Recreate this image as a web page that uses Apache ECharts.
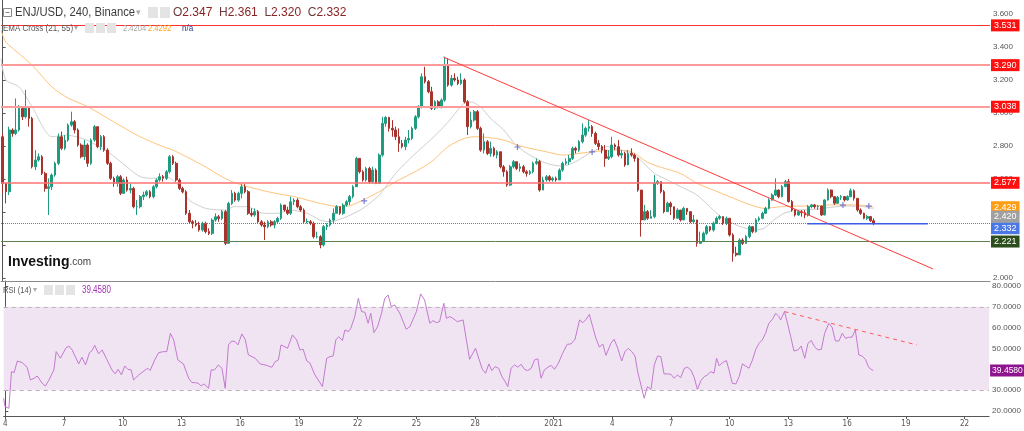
<!DOCTYPE html>
<html><head><meta charset="utf-8">
<script src="https://cdn.jsdelivr.net/npm/echarts/dist/echarts.min.js"></script>
<style>html,body{margin:0;padding:0;background:#fff}#c{width:1024px;height:431px}</style>
</head><body><div id="c"></div>
<script>
// ---------- DATA ----------
const firstOpen = 2.856;
const closes = [
2.573,2.523,2.897,2.876,2.897,3.028,2.977,3.038,2.967,2.674,
2.715,2.735,2.634,2.543,2.553,2.624,2.695,2.856,2.786,2.836,
2.927,2.947,2.897,2.806,2.735,2.806,2.695,2.836,2.917,2.796,
2.856,2.775,2.695,2.604,2.573,2.614,2.513,2.594,2.533,2.543,
2.432,2.432,2.493,2.503,2.523,2.493,2.553,2.594,2.614,2.604,
2.644,2.735,2.695,2.594,2.543,2.523,2.392,2.341,2.331,2.321,
2.291,2.331,2.281,2.270,2.351,2.371,2.361,2.402,2.210,2.452,
2.513,2.472,2.513,2.553,2.523,2.392,2.382,2.402,2.341,2.321,
2.311,2.341,2.321,2.341,2.361,2.442,2.412,2.392,2.462,2.472,
2.432,2.412,2.341,2.341,2.331,2.250,2.250,2.200,2.311,2.321,
2.351,2.392,2.432,2.392,2.442,2.462,2.493,2.553,2.725,2.644,
2.594,2.664,2.584,2.654,2.573,2.745,2.937,2.973,2.907,2.897,
2.856,2.816,2.796,2.836,2.846,2.907,2.977,3.038,3.220,3.190,
3.129,3.028,3.068,3.038,3.078,3.290,3.169,3.210,3.200,3.179,
3.200,3.068,2.917,2.957,3.008,2.907,2.775,2.826,2.755,2.786,
2.745,2.765,2.674,2.644,2.563,2.674,2.705,2.664,2.674,2.644,
2.634,2.644,2.695,2.705,2.533,2.594,2.614,2.594,2.604,2.594,
2.654,2.695,2.705,2.725,2.786,2.775,2.826,2.866,2.907,2.917,
2.876,2.816,2.796,2.775,2.725,2.735,2.806,2.796,2.745,2.755,
2.685,2.755,2.745,2.725,2.533,2.352,2.402,2.362,2.372,2.574,
2.584,2.523,2.402,2.453,2.432,2.362,2.412,2.352,2.422,2.402,
2.342,2.352,2.210,2.220,2.271,2.311,2.291,2.332,2.362,2.372,
2.332,2.362,2.261,2.150,2.140,2.230,2.210,2.251,2.311,2.281,
2.352,2.362,2.392,2.422,2.473,2.503,2.533,2.493,2.554,2.584,
2.463,2.412,2.382,2.402,2.396,2.382,2.432,2.443,2.432,2.436,
2.382,2.473,2.533,2.493,2.453,2.489,2.493,2.473,2.493,2.529,
2.483,2.412,2.392,2.362,2.372,2.347,2.332];
const highs = [
2.876,2.573,2.917,2.907,3.088,3.048,3.038,3.139,3.038,2.977,
2.775,2.755,2.745,2.644,2.604,2.634,2.705,2.876,2.887,2.866,
2.937,3.008,2.957,2.907,2.816,2.836,2.816,2.846,2.927,2.917,
2.866,2.866,2.786,2.705,2.614,2.624,2.624,2.604,2.614,2.573,
2.553,2.472,2.503,2.523,2.533,2.533,2.563,2.604,2.634,2.624,
2.654,2.745,2.745,2.705,2.604,2.553,2.533,2.412,2.351,2.351,
2.341,2.341,2.341,2.301,2.361,2.392,2.382,2.412,2.412,2.462,
2.533,2.523,2.523,2.569,2.569,2.533,2.422,2.422,2.412,2.351,
2.341,2.351,2.351,2.351,2.371,2.452,2.432,2.432,2.493,2.483,
2.483,2.442,2.422,2.361,2.351,2.341,2.281,2.260,2.321,2.331,
2.361,2.422,2.442,2.432,2.452,2.472,2.503,2.563,2.735,2.705,
2.654,2.674,2.674,2.674,2.664,2.755,2.977,2.981,2.977,2.957,
2.917,2.907,2.836,2.856,2.897,2.917,2.987,3.048,3.240,3.280,
3.200,3.159,3.078,3.078,3.088,3.341,3.331,3.230,3.240,3.220,
3.240,3.210,3.078,3.008,3.018,3.018,2.917,2.876,2.836,2.826,
2.796,2.775,2.765,2.685,2.654,2.685,2.715,2.705,2.695,2.685,
2.654,2.654,2.705,2.725,2.715,2.614,2.624,2.624,2.614,2.614,
2.664,2.705,2.725,2.745,2.796,2.796,2.836,2.937,2.917,2.957,
2.927,2.887,2.836,2.806,2.806,2.775,2.856,2.816,2.836,2.775,
2.765,2.775,2.786,2.755,2.730,2.533,2.443,2.412,2.412,2.624,
2.594,2.584,2.533,2.463,2.463,2.432,2.422,2.412,2.432,2.422,
2.402,2.382,2.352,2.281,2.281,2.321,2.315,2.342,2.372,2.382,
2.372,2.372,2.362,2.271,2.190,2.241,2.241,2.261,2.321,2.311,
2.362,2.372,2.402,2.432,2.483,2.513,2.604,2.537,2.564,2.594,
2.600,2.473,2.416,2.412,2.412,2.412,2.443,2.449,2.449,2.443,
2.436,2.477,2.543,2.537,2.497,2.497,2.503,2.497,2.501,2.543,
2.537,2.483,2.422,2.396,2.382,2.376,2.361];
const lows = [
2.513,2.452,2.503,2.856,2.866,2.887,2.957,2.967,2.917,2.664,
2.654,2.705,2.624,2.523,2.382,2.533,2.614,2.685,2.775,2.775,
2.826,2.917,2.876,2.796,2.725,2.715,2.674,2.685,2.826,2.786,
2.775,2.765,2.685,2.594,2.553,2.553,2.503,2.513,2.523,2.513,
2.422,2.382,2.422,2.472,2.493,2.483,2.483,2.543,2.584,2.584,
2.594,2.634,2.685,2.584,2.533,2.513,2.382,2.331,2.301,2.311,
2.281,2.281,2.270,2.260,2.260,2.341,2.341,2.351,2.200,2.206,
2.442,2.462,2.462,2.483,2.513,2.382,2.371,2.371,2.331,2.311,
2.230,2.301,2.311,2.301,2.331,2.351,2.402,2.382,2.382,2.442,
2.422,2.402,2.331,2.331,2.321,2.240,2.240,2.180,2.190,2.291,
2.311,2.331,2.392,2.382,2.382,2.432,2.442,2.483,2.553,2.634,
2.584,2.584,2.573,2.573,2.569,2.569,2.735,2.917,2.887,2.856,
2.836,2.765,2.786,2.775,2.816,2.836,2.897,2.967,3.028,3.179,
3.119,3.018,3.018,3.028,3.028,3.068,3.159,3.159,3.190,3.169,
3.169,3.058,2.866,2.907,2.947,2.897,2.765,2.755,2.745,2.735,
2.735,2.725,2.664,2.614,2.553,2.557,2.664,2.654,2.644,2.634,
2.614,2.624,2.634,2.685,2.523,2.533,2.584,2.584,2.584,2.584,
2.594,2.644,2.685,2.685,2.715,2.755,2.765,2.816,2.856,2.887,
2.856,2.806,2.775,2.755,2.674,2.715,2.725,2.775,2.735,2.725,
2.674,2.685,2.735,2.705,2.523,2.251,2.352,2.352,2.362,2.362,
2.564,2.513,2.392,2.402,2.382,2.352,2.362,2.342,2.352,2.382,
2.332,2.332,2.190,2.210,2.251,2.261,2.281,2.281,2.327,2.352,
2.321,2.321,2.251,2.099,2.130,2.140,2.200,2.206,2.241,2.271,
2.275,2.342,2.356,2.388,2.416,2.469,2.497,2.483,2.489,2.550,
2.457,2.402,2.372,2.376,2.372,2.362,2.372,2.422,2.420,2.412,
2.376,2.380,2.469,2.483,2.443,2.449,2.473,2.463,2.469,2.489,
2.469,2.402,2.382,2.356,2.352,2.340,2.320];

// EMA 55 (orange) and EMA 21 (grey): [candle position, value]
const ema55 = [[-0.5,3.50],[1,3.43],[5,3.36],[9,3.29],[15,3.159],[20,3.09],[26,3.038],[33,2.957],[42,2.856],[49,2.796],[52,2.775],[60,2.695],[70,2.584],[81,2.523],[89,2.493],[97,2.452],[103,2.432],[106,2.438],[110,2.472],[115,2.523],[120,2.584],[125,2.634],[131,2.705],[136,2.796],[141,2.846],[144,2.856],[148,2.852],[153,2.836],[157,2.806],[161,2.786],[166,2.765],[171,2.745],[176,2.755],[180,2.765],[187,2.775],[192,2.766],[197,2.700],[202,2.665],[207,2.634],[212,2.574],[217,2.533],[222,2.493],[227,2.453],[232.5,2.422],[237.6,2.432],[242.7,2.436],[247.7,2.436],[252.8,2.443],[257.9,2.443],[263,2.440],[266,2.429]];
const ema21 = [[-0.5,3.33],[1,3.20],[5,3.159],[9,3.038],[15,2.856],[19.5,2.866],[25.6,2.836],[32.8,2.755],[37.9,2.674],[42,2.614],[46,2.604],[50,2.614],[54,2.553],[57,2.472],[62,2.422],[68.5,2.412],[70.5,2.432],[74.6,2.432],[79.7,2.392],[83.8,2.392],[87.9,2.412],[93,2.392],[97,2.351],[100,2.341],[105,2.371],[110,2.422],[115,2.503],[120,2.634],[125.5,2.745],[130.6,2.836],[135.7,2.937],[140.8,3.058],[142.8,3.068],[145.9,3.038],[149,2.967],[153,2.897],[157,2.800],[161,2.745],[166,2.695],[171,2.678],[175,2.705],[180,2.765],[184.6,2.796],[188.7,2.775],[191.7,2.759],[194.8,2.715],[199,2.634],[202,2.604],[207,2.554],[212,2.503],[217,2.412],[220,2.362],[225.4,2.311],[229.4,2.291],[232.5,2.301],[235.5,2.352],[238.6,2.392],[242.7,2.412],[247.7,2.416],[252.8,2.428],[257.9,2.436],[263,2.432],[266,2.420]];
const emaCross = [[110.4,2.467],[157.2,2.794],[180,2.764],[256.6,2.442],[264.5,2.436]];

// RSI(14): [candle position, value]
const rsi = [[-0.5,26.1],[-0.1,22.1],[1.1,21.3],[1.9,38.9],[2.7,38.4],[3.7,44.0],[5.2,43.2],[6.7,41.0],[7.7,34.9],[8.8,35.7],[9.8,36.8],[11.3,33.3],[12.3,32.0],[13.4,34.9],[14.9,39.7],[15.6,48.5],[16.9,45.3],[18.5,50.1],[19.5,51.2],[20.5,49.3],[22.5,42.6],[23.5,45.8],[24.6,42.1],[25.8,48.0],[26.6,49.0],[27.4,51.5],[28.6,47.4],[29.7,49.3],[31.2,44.5],[32.7,39.7],[33.7,37.8],[34.6,40.0],[35.6,37.3],[36.6,41.6],[37.6,40.0],[38.6,39.7],[39.3,34.9],[40.9,37.3],[42.9,39.7],[43.7,40.5],[44.4,39.4],[45.8,44.5],[47.0,48.0],[48.5,48.5],[49.5,48.5],[50.6,57.3],[51.6,54.1],[52.9,44.5],[54.6,42.6],[56.2,35.7],[57.2,33.6],[58.2,33.6],[59.2,33.3],[60.0,32.0],[60.9,33.0],[62.3,30.9],[63.1,39.7],[64.1,39.7],[65.3,42.1],[66.4,40.5],[67.4,30.9],[68.4,51.7],[69.4,53.6],[70.4,53.3],[71.3,51.7],[72.5,57.0],[73.5,54.4],[74.5,46.9],[76.6,45.3],[78.1,42.6],[79.6,42.1],[80.6,41.6],[81.7,41.0],[82.7,43.7],[83.7,44.5],[84.5,51.7],[85.2,51.2],[86.5,50.1],[88.0,56.5],[89.3,54.1],[90.3,49.3],[91.3,49.6],[92.4,44.0],[93.4,42.9],[94.9,37.3],[95.9,34.9],[97.2,31.7],[98.5,45.3],[99.5,46.1],[100.5,46.4],[101.3,54.1],[102.2,55.7],[103.3,53.8],[104.1,58.9],[105.1,58.1],[105.9,59.7],[107.1,65.3],[108.2,74.1],[109.2,67.7],[110.2,67.4],[111.2,62.1],[112.0,66.9],[113.0,57.6],[114.1,60.5],[115.3,66.9],[116.3,74.1],[117.3,75.7],[118.3,70.1],[119.4,70.9],[120.9,66.9],[122.9,59.2],[124.0,60.5],[126.0,67.7],[127.3,76.2],[128.5,73.3],[130.1,62.1],[131.1,63.4],[132.1,62.4],[133.1,62.9],[134.4,71.7],[135.2,64.5],[136.2,65.3],[137.2,64.5],[138.5,62.9],[140.3,63.7],[142.3,44.8],[144.1,50.1],[146.2,40.0],[147.2,38.1],[148.2,42.6],[149.1,39.4],[150.1,41.3],[151.2,40.5],[152.2,36.5],[153.2,34.1],[154.0,31.7],[155.0,40.5],[156.1,42.1],[157.1,41.0],[158.1,42.4],[159.1,40.0],[160.1,39.4],[161.2,40.5],[162.2,44.5],[163.2,45.0],[164.2,35.7],[165.2,39.7],[166.3,41.0],[167.3,41.9],[168.3,40.0],[169.5,42.9],[170.8,47.7],[172.2,52.0],[173.4,52.2],[174.6,54.4],[176.0,63.7],[177.0,62.4],[178.0,64.0],[179.0,66.4],[180.0,60.5],[181.0,54.9],[182.1,50.6],[183.1,52.2],[184.1,46.7],[185.6,52.5],[186.6,54.4],[187.7,50.1],[188.9,44.0],[189.9,48.5],[190.9,50.1],[192.0,48.5],[193.0,46.4],[193.8,38.9],[194.8,32.5],[195.8,26.1],[196.8,31.7],[197.9,30.4],[198.9,42.1],[199.9,46.4],[200.9,46.1],[201.9,37.8],[203.0,37.8],[204.0,37.6],[205.0,35.7],[206.0,37.3],[207.0,36.0],[208.1,40.5],[209.1,41.0],[210.1,39.7],[211.1,36.2],[212.1,30.4],[213.2,34.6],[214.2,36.5],[215.2,37.3],[216.2,38.9],[217.2,38.1],[218.0,45.3],[218.8,41.6],[219.8,43.2],[221.0,44.2],[221.8,39.7],[222.8,33.3],[223.9,33.0],[224.9,36.5],[225.9,42.6],[226.9,41.6],[227.9,40.5],[229.0,44.5],[230.0,49.6],[231.0,52.5],[232.0,54.1],[233.0,57.3],[234.0,62.1],[235.1,64.0],[236.1,66.9],[237.1,65.3],[237.6,63.7],[238.8,67.7],[239.6,62.9],[240.7,55.7],[241.7,48.8],[242.9,49.3],[243.9,51.2],[245.0,45.3],[246.0,52.5],[247.0,53.8],[248.0,50.9],[249.0,49.3],[250.1,49.6],[251.1,57.3],[252.4,62.1],[253.4,60.2],[254.4,53.6],[255.5,53.6],[256.5,57.3],[257.5,54.9],[258.5,55.4],[259.5,55.4],[260.5,58.9],[261.6,46.9],[262.6,46.4],[263.6,44.8],[264.6,41.0],[265.6,39.7],[266,39.458]];

// drawn objects
const resistLevels = [3.531, 3.290, 3.038, 2.577];
const lastPrice = 2.332;
const supportLevel = 2.221;
const ema55Last = 2.429, ema21Last = 2.420, rsiLast = 39.458;
const trendMain = [[134.6,3.339],[284.1,2.055]];
const blueSeg = [[245.7,2.329],[282.5,2.329]];
const rsiTrend = [[238.8,67.7],[279.4,51.7]];

// x axis: 4h candles from 4 Dec 2020
const slotCount = 302;
const startMs = Date.UTC(2020, 11, 4, 0);
const tickDates = ['2020-12-04','2020-12-07','2020-12-10','2020-12-13','2020-12-16','2020-12-19','2020-12-22','2020-12-25','2020-12-28','2021-01-01','2021-01-04','2021-01-07','2021-01-10','2021-01-13','2021-01-16','2021-01-19','2021-01-22'];
const tickLabels = ['4','7','10','13','16','19','22','25','28','2021','4','7','10','13','16','19','22'];

// ---------- BUILD ----------
const categories = [];
for (let i = 0; i < slotCount; i++) categories.push(new Date(startMs + i*4*3600e3).toISOString().slice(0,13));
const tickMap = {};
tickDates.forEach((d,k) => tickMap[d + 'T00'] = tickLabels[k]);
const candles = closes.map((c,i) => {
  const o = i === 0 ? firstOpen : closes[i-1];
  return [o, c, Math.min(lows[i], o, c), Math.max(highs[i], o, c)];
});

const UP = '#1f9c80', DOWN = '#a8332d';
const FONT = 'Liberation Sans, Arial, sans-serif';
const NARROW = 'Liberation Sans Narrow, DejaVu Sans Condensed, Arial, sans-serif';
function tag(bg, val, dec, offY, fs) {
  return { show: true, position: 'end', distance: 1, backgroundColor: bg, color: '#fff',
    fontSize: fs || 9, fontFamily: FONT, padding: [2,3,1,3], offset: [0, offY || 0],
    formatter: () => val.toFixed(dec) };
}
const hidden = { color: 'rgba(0,0,0,0)', width: 0 };
function txt(x, y, text, fill, size, sx) {
  return { type: 'text', x: x, y: y, z: 100, scaleX: sx || 1,
    style: { text: text, fill: fill, font: size + 'px ' + FONT, verticalAlign: 'middle' } };
}
function box(x, y, w, h) {
  return { type: 'rect', z: 100, shape: { x: x, y: y, width: w, height: h }, style: { fill: '#e4e4e4' } };
}

const levelStyles = [
  { color: '#ff3030', width: 1 },
  { color: '#ff9a9a', width: 2 },
  { color: '#ff9a9a', width: 2 },
  { color: '#ff7272', width: 1.5 }
];
const levelMarks = resistLevels.map((v,k) => ({ yAxis: v, lineStyle: { color: levelStyles[k].color, width: levelStyles[k].width, type: 'solid' }, label: tag('#ff1010', v, 3) }));
levelMarks.push({ yAxis: lastPrice, lineStyle: { color: '#5577e6', width: 1, type: 'dotted' }, label: tag('#4a78e6', lastPrice, 3, 5) });
levelMarks.push({ yAxis: supportLevel, lineStyle: { color: '#5f7f4c', width: 1, type: 'solid' }, label: tag('#2c4d1c', supportLevel, 3) });

const chart = echarts.init(document.getElementById('c'), null, { renderer: 'canvas' });
const axisGrey = '#555';
chart.setOption({
  animation: false,
  backgroundColor: '#fff',
  grid: [
    { left: 1, top: 0, width: 989, height: 281 },
    { left: 1, top: 281, width: 989, height: 135 }
  ],
  xAxis: [
    { type: 'category', gridIndex: 0, data: categories, boundaryGap: true,
      axisLine: { show: true, lineStyle: { color: '#8a8a8a' } }, axisTick: { show: false }, axisLabel: { show: false }, splitLine: { show: false } },
    { type: 'value', gridIndex: 0, min: -0.5, max: slotCount - 0.5, show: false },
    { type: 'category', gridIndex: 1, data: categories, boundaryGap: true,
      axisLine: { show: true, lineStyle: { color: axisGrey } },
      axisTick: { show: true, length: 3, alignWithLabel: true, interval: (i, v) => tickMap[v] !== undefined, lineStyle: { color: axisGrey } },
      axisLabel: { show: true, interval: (i, v) => tickMap[v] !== undefined, formatter: v => tickMap[v] || '',
        color: '#555', fontSize: 8, fontFamily: NARROW, margin: 4 },
      splitLine: { show: false } },
    { type: 'value', gridIndex: 1, min: -0.5, max: slotCount - 0.5, show: false }
  ],
  yAxis: [
    { type: 'value', gridIndex: 0, position: 'right', min: 1.9818, max: 3.6848, splitNumber: 8, scale: true,
      axisLine: { show: true, lineStyle: { color: axisGrey } }, axisTick: { show: true, length: 3, lineStyle: { color: axisGrey } },
      splitLine: { show: false },
      axisLabel: { color: '#555', fontSize: 8, fontFamily: FONT, margin: 3, showMinLabel: false, showMaxLabel: false,
        formatter: v => (Math.abs(v-2.2) < 1e-6 || Math.abs(v-2.4) < 1e-6) ? '' : v.toFixed(3) } },
    { type: 'value', gridIndex: 1, position: 'right', min: 17.59, max: 82.4, splitNumber: 6,
      axisLine: { show: true, lineStyle: { color: axisGrey } }, axisTick: { show: true, length: 3, lineStyle: { color: axisGrey } },
      splitLine: { show: false },
      axisLabel: { color: '#555', fontSize: 8, fontFamily: FONT, margin: 3, showMinLabel: false, showMaxLabel: false,
        formatter: v => v.toFixed(4) } }
  ],
  series: [
    { type: 'candlestick', xAxisIndex: 0, yAxisIndex: 0, data: candles, barWidth: '66%', z: 3,
      itemStyle: { color: UP, color0: DOWN, borderColor: UP, borderColor0: DOWN, borderWidth: 1 },
      markLine: { silent: true, symbol: 'none', precision: 4, animation: false, data: levelMarks } },
    { type: 'line', name: 'EMA55', xAxisIndex: 1, yAxisIndex: 0, data: ema55, showSymbol: false, smooth: 0.25, z: 2,
      lineStyle: { color: '#ffc37a', width: 1 },
      markLine: { silent: true, symbol: 'none', precision: 4, data: [{ yAxis: ema55Last, lineStyle: hidden, label: tag('#ff9d14', ema55Last, 3) }] } },
    { type: 'line', name: 'EMA21', xAxisIndex: 1, yAxisIndex: 0, data: ema21, showSymbol: false, smooth: 0.25, z: 2,
      lineStyle: { color: '#cfcfcf', width: 1 },
      markLine: { silent: true, symbol: 'none', precision: 4, data: [{ yAxis: ema21Last, lineStyle: hidden, label: tag('#a0a0a0', ema21Last, 3, 8) }] } },
    { type: 'scatter', xAxisIndex: 1, yAxisIndex: 0, data: emaCross, z: 4,
      symbol: 'path://M4,0H6V4H10V6H6V10H4V6H0V4H4Z', symbolSize: 6, itemStyle: { color: '#5a5fd0' } },
    { type: 'line', xAxisIndex: 1, yAxisIndex: 0, data: trendMain, showSymbol: false, z: 5,
      lineStyle: { color: '#ff3b3b', width: 1 } },
    { type: 'line', xAxisIndex: 1, yAxisIndex: 0, data: blueSeg, showSymbol: false, z: 5,
      lineStyle: { color: '#3c5de6', width: 1.5 } },
    { type: 'line', xAxisIndex: 3, yAxisIndex: 1, data: rsi, showSymbol: false, z: 3,
      lineStyle: { color: '#c27ad0', width: 1 },
      markArea: { silent: true, itemStyle: { color: '#f1e4f2' }, data: [[{ yAxis: 30 }, { yAxis: 70 }]] },
      markLine: { silent: true, symbol: 'none', precision: 4, data: [
        { yAxis: 70, lineStyle: { color: '#b9b0b9', width: 1, type: [4,4] }, label: { show: false } },
        { yAxis: 30, lineStyle: { color: '#b9b0b9', width: 1, type: [4,4] }, label: { show: false } },
        { yAxis: rsiLast, lineStyle: hidden, label: Object.assign(tag('#8e138e', rsiLast, 4, 0, 8.5), { padding: [2,2,1,2] }) } ] } },
    { type: 'line', xAxisIndex: 3, yAxisIndex: 1, data: rsiTrend, showSymbol: false, z: 4,
      lineStyle: { color: '#ff5a5a', width: 1, type: [4,4] } }
  ],
  graphic: [
    // main legend
    { type: 'rect', shape: { x: 3.5, y: 8.5, width: 8, height: 8 }, style: { fill: '#fff', stroke: '#888', lineWidth: 1 }, z: 100 },
    { type: 'line', shape: { x1: 5.5, y1: 12.5, x2: 9.5, y2: 12.5 }, style: { stroke: '#888', lineWidth: 1 }, z: 100 },
    txt(15, 13, 'ENJ/USD, 240, Binance', '#3c3c3c', 12.5, 0.9),
    txt(136, 13, '▾', '#aaa', 9),
    box(148, 7, 10, 11), box(160, 7, 10, 11),
    { type: 'text', x: 173, y: 13, z: 100, style: { text: '{l|O}{v|2.347}  {l|H}{v|2.361}  {l|L}{v|2.320}  {l|C}{v|2.332}', font: '12px ' + FONT, verticalAlign: 'middle',
      rich: { l: { fill: '#6a3a3a', font: '12px ' + FONT }, v: { fill: '#8a2424', font: '12px ' + FONT } } } },
    // EMA legend
    txt(3, 28, 'EMA Cross (21, 55)', '#555', 9.5, 0.84),
    txt(74, 28, '▾', '#aaa', 8),
    box(85, 23, 9, 10), box(96, 23, 9, 10), box(107, 23, 9, 10),
    txt(123, 28, '2.4204', '#a8a8a8', 9.5, 0.8),
    txt(148, 28, '2.4292', '#f5a31c', 9.5, 0.8),
    txt(182, 28, 'n/a', '#23409a', 9.5, 0.85),
    // RSI legend
    txt(3, 290, 'RSI (14)', '#555', 9.5, 0.8),
    txt(33, 290, '▾', '#aaa', 8),
    box(44, 285, 9, 10), box(55, 285, 9, 10), box(66, 285, 9, 10),
    txt(82, 290, '39.4580', '#a52fb3', 10, 0.8),
    // Investing.com logo
    { type: 'text', x: 8, y: 262, z: 100, style: { text: '{a|Investing}{b|.com}', verticalAlign: 'middle',
      rich: { a: { fill: '#111', font: 'bold 14px ' + FONT }, b: { fill: '#444', font: '10px ' + FONT } } } }
  ]
});
</script>
</body></html>
